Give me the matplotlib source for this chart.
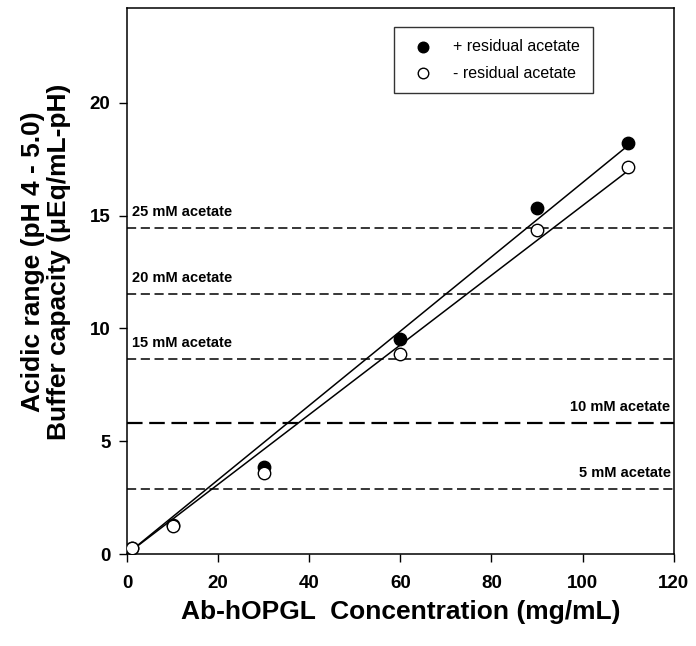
import numpy as np
import matplotlib
matplotlib.use("Agg")
import matplotlib.pyplot as plt

plt.rcParams['font.family'] = ['Liberation Sans', 'DejaVu Sans']

# Ab-hOPGL concentration (mg/mL)
conc = [1, 10, 30, 60, 90, 110]
# Buffer capacity, acidic range (uEq/mL-pH)
with_acetate = [0.28, 1.3, 3.86, 9.51, 15.35, 18.2]
without_acetate = [0.28, 1.24, 3.58, 8.85, 14.38, 17.14]

# Buffer capacity contributed by acetate at fixed concentrations
acetate_mM = [5, 10, 15, 20, 25]
acetate_capacity = [2.88, 5.80, 8.63, 11.52, 14.45]

fig = plt.figure(figsize=(6.96, 6.46), dpi=100)
ax = fig.add_axes([0.1825, 0.1424, 0.7855, 0.8452])

# Least-squares lines through the origin
x = np.array(conc, dtype=float)
xfit = np.array([x.min(), x.max()])
for ys in (with_acetate, without_acetate):
    k = np.dot(x, ys) / np.dot(x, x)
    ax.plot(xfit, k * xfit, color='black', lw=1.1, zorder=2)

ax.scatter(conc, with_acetate, s=80, facecolor='black', edgecolor='black',
           lw=1.0, zorder=3, label='+ residual acetate')
ax.scatter(conc, without_acetate, s=80, facecolor='white', edgecolor='black',
           lw=1.0, zorder=4, label='- residual acetate')

for mm, cap in zip(acetate_mM, acetate_capacity):
    lw = 1.6 if mm == 10 else 1.1
    dashes = (7, 3) if mm == 10 else (6, 3)
    ax.axhline(cap, color='black', lw=lw, dashes=dashes, zorder=1)
    label = f'{mm} mM acetate'
    if mm <= 10:
        ax.text(119.3, cap + 0.4, label, ha='right', va='bottom',
                fontsize=10.5, fontweight='bold')
    else:
        ax.text(1.2, cap + 0.4, label, ha='left', va='bottom',
                fontsize=10.5, fontweight='bold')

ax.set_xlim(0, 120)
ax.set_ylim(0, 24.2)
ax.set_xticks([0, 20, 40, 60, 80, 100, 120])
ax.set_yticks([0, 5, 10, 15, 20])
ax.tick_params(direction='out', length=6, width=1, labelsize=13.5)
ax.tick_params(axis='x', pad=9)
ax.tick_params(axis='y', pad=6)
for lab in ax.get_xticklabels() + ax.get_yticklabels():
    lab.set_fontweight('bold')
for sp in ax.spines.values():
    sp.set_linewidth(1.1)

ax.set_xlabel('Ab-hOPGL  Concentration (mg/mL)', fontsize=19,
              fontweight='bold', labelpad=6)
ax.set_ylabel('Acidic range (pH 4 - 5.0)\nBuffer capacity (μEq/mL-pH)',
              fontsize=19, fontweight='bold', linespacing=1.1)
ax.yaxis.set_label_coords(-0.102, 0.535)

leg = ax.legend(loc='upper right', bbox_to_anchor=(0.852, 0.966),
                borderaxespad=0.0,
                fontsize=11.5, frameon=True, fancybox=False, edgecolor='black',
                handletextpad=0.9, borderpad=0.8, markerscale=0.85,
                labelspacing=0.7)
leg.get_frame().set_linewidth(1.0)

fig.savefig('out.png', dpi=100)
